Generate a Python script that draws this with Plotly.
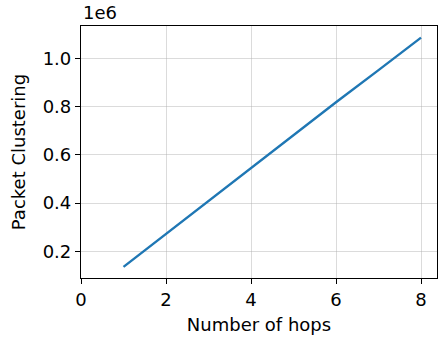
import plotly.graph_objects as go

# Packet clustering measured against hop count
hops = [1, 2, 3, 4, 5, 6, 7, 8]
packet_clustering = [135000, 272000, 408000, 545000, 681000, 818000, 951000, 1086000]

x_ticks = [0, 2, 4, 6, 8]
y_ticks = [200000, 400000, 600000, 800000, 1000000]
y_tick_text = [f"{v / 1e6:.1f}" for v in y_ticks]

FONT = "DejaVu Sans"
FS = 18

fig = go.Figure()
fig.add_trace(go.Scatter(
    x=hops, y=packet_clustering, mode="lines",
    line=dict(color="#1f77b4", width=2.4),
    showlegend=False,
))

axis_common = dict(
    showline=True, linecolor="black", linewidth=1.2, mirror=True,
    ticks="outside", ticklen=5, tickwidth=1.1, tickcolor="black",
    showgrid=True, gridcolor="rgba(176,176,176,0.45)", gridwidth=1,
    zeroline=False,
    tickfont=dict(family=FONT, size=FS, color="black"),
)

fig.update_xaxes(
    **axis_common,
    range=[0, 8.376], tickvals=x_ticks,
    title=dict(text="Number of hops", font=dict(family=FONT, size=FS, color="black"), standoff=9),
)
fig.update_yaxes(
    **axis_common,
    range=[89000, 1134000], tickvals=y_ticks, ticktext=y_tick_text,
    title=dict(text="Packet Clustering", font=dict(family=FONT, size=FS, color="black"), standoff=12),
)

fig.add_annotation(
    text="1e6", xref="paper", yref="paper", x=0, y=1, xanchor="left", yanchor="bottom",
    showarrow=False, yshift=1, font=dict(family=FONT, size=FS, color="black"),
)

fig.update_layout(
    width=438, height=337,
    margin=dict(l=81, r=1, t=26, b=59),
    paper_bgcolor="white", plot_bgcolor="white",
)

fig.write_html("out.html")
